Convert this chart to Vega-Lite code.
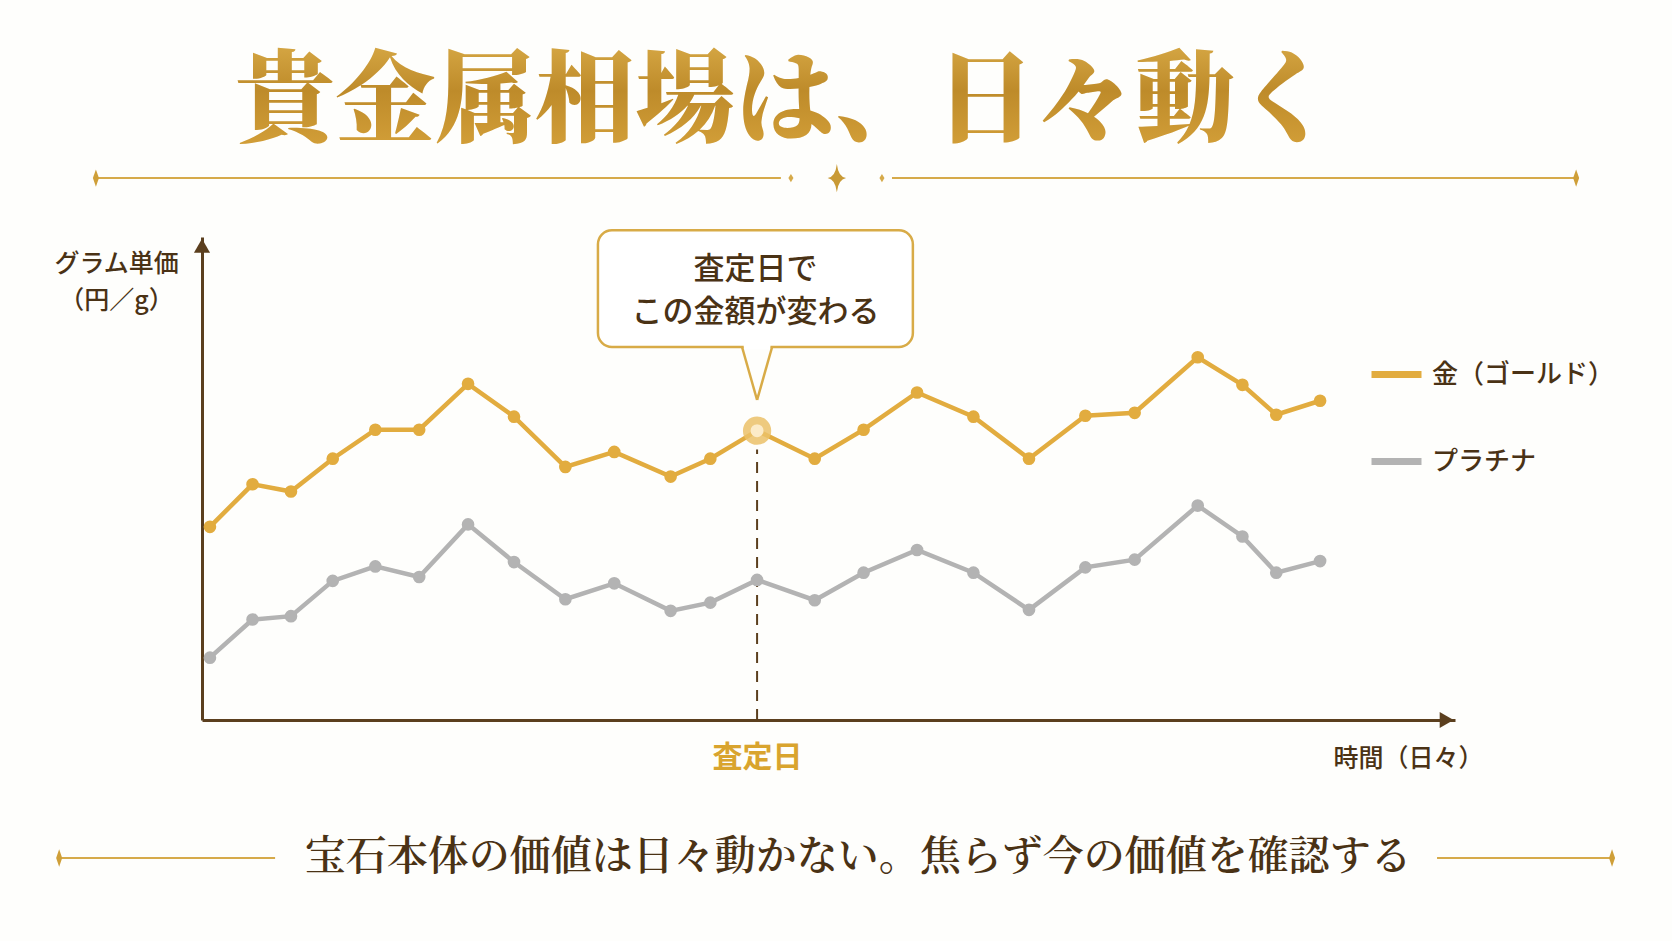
{
  "$schema": "https://vega.github.io/schema/vega-lite/v6.json",
  "width": 1253,
  "height": 483,
  "autosize": {"type": "none"},
  "padding": {"left": 202, "top": 237, "right": 217, "bottom": 221},
  "background": "#FEFEFC",
  "config": {"view": {"stroke": null}},
  "datasets": {
    "prices": [
      {"day": 0.19, "price": 40.0, "metal": "金（ゴールド）"},
      {"day": 1.21, "price": 48.8, "metal": "金（ゴールド）"},
      {"day": 2.13, "price": 47.3, "metal": "金（ゴールド）"},
      {"day": 3.13, "price": 54.1, "metal": "金（ゴールド）"},
      {"day": 4.15, "price": 60.1, "metal": "金（ゴールド）"},
      {"day": 5.20, "price": 60.1, "metal": "金（ゴールド）"},
      {"day": 6.37, "price": 69.6, "metal": "金（ゴールド）"},
      {"day": 7.47, "price": 62.8, "metal": "金（ゴールド）"},
      {"day": 8.70, "price": 52.4, "metal": "金（ゴールド）"},
      {"day": 9.87, "price": 55.5, "metal": "金（ゴールド）"},
      {"day": 11.22, "price": 50.4, "metal": "金（ゴールド）"},
      {"day": 12.17, "price": 54.1, "metal": "金（ゴールド）"},
      {"day": 13.29, "price": 59.9, "metal": "金（ゴールド）"},
      {"day": 14.67, "price": 54.1, "metal": "金（ゴールド）"},
      {"day": 15.84, "price": 60.1, "metal": "金（ゴールド）"},
      {"day": 17.12, "price": 67.8, "metal": "金（ゴールド）"},
      {"day": 18.47, "price": 62.8, "metal": "金（ゴールド）"},
      {"day": 19.80, "price": 54.1, "metal": "金（ゴールド）"},
      {"day": 21.15, "price": 63.0, "metal": "金（ゴールド）"},
      {"day": 22.33, "price": 63.6, "metal": "金（ゴールド）"},
      {"day": 23.84, "price": 75.1, "metal": "金（ゴールド）"},
      {"day": 24.91, "price": 69.4, "metal": "金（ゴールド）"},
      {"day": 25.72, "price": 63.2, "metal": "金（ゴールド）"},
      {"day": 26.77, "price": 66.1, "metal": "金（ゴールド）"},
      {"day": 0.19, "price": 12.9, "metal": "プラチナ"},
      {"day": 1.21, "price": 20.8, "metal": "プラチナ"},
      {"day": 2.13, "price": 21.5, "metal": "プラチナ"},
      {"day": 3.13, "price": 28.8, "metal": "プラチナ"},
      {"day": 4.15, "price": 31.8, "metal": "プラチナ"},
      {"day": 5.20, "price": 29.6, "metal": "プラチナ"},
      {"day": 6.37, "price": 40.5, "metal": "プラチナ"},
      {"day": 7.47, "price": 32.7, "metal": "プラチナ"},
      {"day": 8.70, "price": 25.0, "metal": "プラチナ"},
      {"day": 9.87, "price": 28.3, "metal": "プラチナ"},
      {"day": 11.22, "price": 22.6, "metal": "プラチナ"},
      {"day": 12.17, "price": 24.3, "metal": "プラチナ"},
      {"day": 13.29, "price": 29.0, "metal": "プラチナ"},
      {"day": 14.67, "price": 24.8, "metal": "プラチナ"},
      {"day": 15.84, "price": 30.5, "metal": "プラチナ"},
      {"day": 17.12, "price": 35.2, "metal": "プラチナ"},
      {"day": 18.47, "price": 30.5, "metal": "プラチナ"},
      {"day": 19.80, "price": 22.8, "metal": "プラチナ"},
      {"day": 21.15, "price": 31.6, "metal": "プラチナ"},
      {"day": 22.33, "price": 33.2, "metal": "プラチナ"},
      {"day": 23.84, "price": 44.4, "metal": "プラチナ"},
      {"day": 24.91, "price": 38.0, "metal": "プラチナ"},
      {"day": 25.72, "price": 30.5, "metal": "プラチナ"},
      {"day": 26.77, "price": 32.9, "metal": "プラチナ"}
    ]
  },
  "layer": [
    {
      "data": {"values": [{}]},
      "mark": {"type": "text", "text": "貴金属相場は、日々動く", "font": "'Noto Serif CJK JP', 'Noto Sans CJK JP'", "fontSize": 100, "fontWeight": 900, "align": "center", "baseline": "middle",
        "fill": {"gradient": "linear", "x1": 0, "y1": 0, "x2": 0, "y2": 1, "stops": [{"offset": 0, "color": "#E2B652"}, {"offset": 0.5, "color": "#BE8B2A"}, {"offset": 1, "color": "#D8A43C"}]}},
      "encoding": {"x": {"datum": 13.96, "type": "quantitative"}, "y": {"datum": 127.6, "type": "quantitative"}}
    },
    {
      "data": {"values": [{}]},
      "mark": {"type": "rule", "color": "#D6AA4A", "strokeWidth": 2},
      "encoding": {"x": {"datum": -2.54, "type": "quantitative"}, "x2": {"datum": 13.86}, "y": {"datum": 112.2, "type": "quantitative"}}
    },
    {
      "data": {"values": [{}]},
      "mark": {"type": "rule", "color": "#D6AA4A", "strokeWidth": 2},
      "encoding": {"x": {"datum": 16.52, "type": "quantitative"}, "x2": {"datum": 32.9}, "y": {"datum": 112.2, "type": "quantitative"}}
    },
    {
      "data": {"values": [{}]},
      "mark": {"type": "rule", "color": "#D6AA4A", "strokeWidth": 2},
      "encoding": {"x": {"datum": -3.42, "type": "quantitative"}, "x2": {"datum": 1.75}, "y": {"datum": -28.57, "type": "quantitative"}}
    },
    {
      "data": {"values": [{}]},
      "mark": {"type": "rule", "color": "#D6AA4A", "strokeWidth": 2},
      "encoding": {"x": {"datum": 29.57, "type": "quantitative"}, "x2": {"datum": 33.76}, "y": {"datum": -28.57, "type": "quantitative"}}
    },
    {
      "data": {"values": [{}]},
      "mark": {"type": "point", "shape": "M0,-1L0.35,0L0,1L-0.35,0Z", "filled": true, "color": "#CF9F38", "size": 300, "opacity": 1},
      "encoding": {"x": {"datum": -2.54, "type": "quantitative"}, "y": {"datum": 112.2, "type": "quantitative"}}
    },
    {
      "data": {"values": [{}]},
      "mark": {"type": "point", "shape": "M0,-1L0.35,0L0,1L-0.35,0Z", "filled": true, "color": "#CF9F38", "size": 300, "opacity": 1},
      "encoding": {"x": {"datum": 32.9, "type": "quantitative"}, "y": {"datum": 112.2, "type": "quantitative"}}
    },
    {
      "data": {"values": [{}]},
      "mark": {"type": "point", "shape": "M0,-1L0.35,0L0,1L-0.35,0Z", "filled": true, "color": "#CF9F38", "size": 300, "opacity": 1},
      "encoding": {"x": {"datum": -3.42, "type": "quantitative"}, "y": {"datum": -28.57, "type": "quantitative"}}
    },
    {
      "data": {"values": [{}]},
      "mark": {"type": "point", "shape": "M0,-1L0.35,0L0,1L-0.35,0Z", "filled": true, "color": "#CF9F38", "size": 300, "opacity": 1},
      "encoding": {"x": {"datum": 33.76, "type": "quantitative"}, "y": {"datum": -28.57, "type": "quantitative"}}
    },
    {
      "data": {"values": [{}]},
      "mark": {"type": "point", "shape": "M0,-1Q0.1,-0.1 0.65,0Q0.1,0.1 0,1Q-0.1,0.1 -0.65,0Q-0.1,-0.1 0,-1Z", "filled": true, "color": "#C99A35", "size": 800, "opacity": 1},
      "encoding": {"x": {"datum": 15.2, "type": "quantitative"}, "y": {"datum": 112.2, "type": "quantitative"}}
    },
    {
      "data": {"values": [{}]},
      "mark": {"type": "point", "shape": "M0,-1L0.6,0L0,1L-0.6,0Z", "filled": true, "color": "#D6AA4A", "size": 70, "opacity": 1},
      "encoding": {"x": {"datum": 14.1, "type": "quantitative"}, "y": {"datum": 112.2, "type": "quantitative"}}
    },
    {
      "data": {"values": [{}]},
      "mark": {"type": "point", "shape": "M0,-1L0.6,0L0,1L-0.6,0Z", "filled": true, "color": "#D6AA4A", "size": 70, "opacity": 1},
      "encoding": {"x": {"datum": 16.28, "type": "quantitative"}, "y": {"datum": 112.2, "type": "quantitative"}}
    },
    {
      "data": {"values": [{}]},
      "mark": {"type": "text", "text": "宝石本体の価値は日々動かない。焦らず今の価値を確認する", "font": "'Noto Serif CJK JP', 'Noto Sans CJK JP'", "fontSize": 41, "fontWeight": 600, "color": "#4A3215", "align": "center", "baseline": "middle"},
      "encoding": {"x": {"datum": 15.71, "type": "quantitative"}, "y": {"datum": -28.57, "type": "quantitative"}}
    },
    {
      "data": {"values": [{}]},
      "mark": {"type": "rect", "fill": "#FFFFFF", "stroke": "#D8AB47", "strokeWidth": 2.5, "cornerRadius": 14},
      "encoding": {"x": {"datum": 9.48, "type": "quantitative"}, "x2": {"datum": 17.02}, "y": {"datum": 101.4, "type": "quantitative"}, "y2": {"datum": 77.23}}
    },
    {
      "data": {"values": [{}]},
      "mark": {"type": "rule", "color": "#FFFFFF", "strokeWidth": 5},
      "encoding": {"x": {"datum": 12.97, "type": "quantitative"}, "x2": {"datum": 13.61}, "y": {"datum": 77.23, "type": "quantitative"}}
    },
    {
      "data": {"values": [{}]},
      "mark": {"type": "rule", "color": "#D8AB47", "strokeWidth": 2.5},
      "encoding": {"x": {"datum": 12.93, "type": "quantitative"}, "x2": {"datum": 13.29}, "y": {"datum": 77.23, "type": "quantitative"}, "y2": {"datum": 66.25}}
    },
    {
      "data": {"values": [{}]},
      "mark": {"type": "rule", "color": "#D8AB47", "strokeWidth": 2.5},
      "encoding": {"x": {"datum": 13.65, "type": "quantitative"}, "x2": {"datum": 13.29}, "y": {"datum": 77.23, "type": "quantitative"}, "y2": {"datum": 66.25}}
    },
    {
      "data": {"values": [{}]},
      "mark": {"type": "text", "text": "査定日で", "font": "Noto Sans CJK JP", "fontSize": 31, "fontWeight": 500, "color": "#4A3215", "align": "center", "baseline": "middle"},
      "encoding": {"x": {"datum": 13.25, "type": "quantitative"}, "y": {"datum": 93.2, "type": "quantitative"}}
    },
    {
      "data": {"values": [{}]},
      "mark": {"type": "text", "text": "この金額が変わる", "font": "Noto Sans CJK JP", "fontSize": 31, "fontWeight": 500, "color": "#4A3215", "align": "center", "baseline": "middle"},
      "encoding": {"x": {"datum": 13.25, "type": "quantitative"}, "y": {"datum": 84.3, "type": "quantitative"}}
    },
    {
      "data": {"values": [{}]},
      "mark": {"type": "rule", "color": "#5B3F1E", "strokeWidth": 2, "strokeDash": [11, 8]},
      "encoding": {"x": {"datum": 13.29, "type": "quantitative"}, "y": {"datum": 0, "type": "quantitative"}, "y2": {"datum": 56.0}}
    },
    {
      "data": {"name": "prices"},
      "mark": {"type": "line", "strokeWidth": 4.5, "point": {"filled": true, "size": 160}},
      "encoding": {
        "x": {
          "field": "day", "type": "quantitative",
          "scale": {"domain": [0, 30], "nice": false, "zero": false},
          "axis": {
            "values": [13.29], "labelExpr": "'査定日'", "grid": false, "ticks": false, "tickSize": 0,
            "domainColor": "#5B3F1E", "domainWidth": 3,
            "labelFont": "Noto Sans CJK JP", "labelFontSize": 30, "labelFontWeight": 700, "labelColor": "#D9A42E", "labelPadding": 22,
            "title": "時間（日々）", "titleX": 1206, "titleY": 38, "titleAlign": "center", "titleBaseline": "middle",
            "titleFont": "Noto Sans CJK JP", "titleFontSize": 25, "titleFontWeight": 500, "titleColor": "#4A3215"
          }
        },
        "y": {
          "field": "price", "type": "quantitative",
          "scale": {"domain": [0, 100], "nice": false, "zero": false},
          "axis": {
            "grid": false, "ticks": false, "labels": false,
            "domainColor": "#5B3F1E", "domainWidth": 3,
            "title": ["グラム単価", "（円／g）"], "titleAngle": 0, "titleX": -86, "titleY": 14, "titleAlign": "center", "titleBaseline": "top", "titleLineHeight": 37,
            "titleFont": "Noto Sans CJK JP", "titleFontSize": 25, "titleFontWeight": 500, "titleColor": "#4A3215"
          }
        },
        "color": {
          "field": "metal", "type": "nominal",
          "scale": {"domain": ["金（ゴールド）", "プラチナ"], "range": ["#E2AC3F", "#B3B3B3"]},
          "legend": {
            "orient": "none", "legendX": 1166, "legendY": 109, "title": null, "padding": 0,
            "symbolType": "stroke", "symbolSize": 2500, "symbolStrokeWidth": 7,
            "labelFont": "Noto Sans CJK JP", "labelFontSize": 26, "labelFontWeight": 500, "labelColor": "#4A3215",
            "labelOffset": 7, "rowPadding": 44, "labelLimit": 400
          }
        }
      }
    },
    {
      "data": {"name": "prices"},
      "transform": [{"filter": "datum.day == 13.29 && datum.metal == '金（ゴールド）'"}],
      "mark": {"type": "point", "filled": true, "color": "#EBC168", "size": 800, "opacity": 0.85},
      "encoding": {"x": {"field": "day", "type": "quantitative"}, "y": {"field": "price", "type": "quantitative"}}
    },
    {
      "data": {"name": "prices"},
      "transform": [{"filter": "datum.day == 13.29 && datum.metal == '金（ゴールド）'"}],
      "mark": {"type": "point", "filled": true, "color": "#FCEBC8", "size": 170, "opacity": 1},
      "encoding": {"x": {"field": "day", "type": "quantitative"}, "y": {"field": "price", "type": "quantitative"}}
    },
    {
      "data": {"values": [{}]},
      "mark": {"type": "point", "shape": "triangle-up", "filled": true, "color": "#5B3F1E", "size": 260, "opacity": 1},
      "encoding": {"x": {"datum": 0, "type": "quantitative"}, "y": {"datum": 98.2, "type": "quantitative"}}
    },
    {
      "data": {"values": [{}]},
      "mark": {"type": "point", "shape": "triangle-right", "filled": true, "color": "#5B3F1E", "size": 260, "opacity": 1},
      "encoding": {"x": {"datum": 29.8, "type": "quantitative"}, "y": {"datum": 0, "type": "quantitative"}}
    }
  ]
}
